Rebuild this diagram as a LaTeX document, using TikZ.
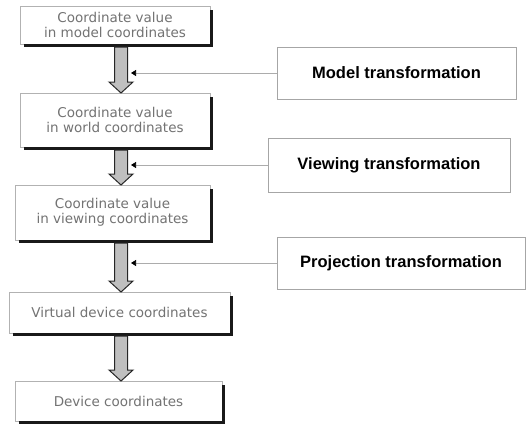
\documentclass[tikz,border=0pt]{standalone}
\usepackage{fontspec}
\setmainfont{DejaVu Sans}
\newfontfamily\boldsans{Liberation Sans}
\usetikzlibrary{calc,arrows.meta}
\begin{document}
\begin{tikzpicture}[x=1pt,y=-1pt,
  leftbox/.style={draw=gray!60, line width=0.8pt, fill=white, inner sep=0pt, outer sep=0pt,
    align=center, text=black!55, font=\fontsize{13.5}{15}\selectfont},
  shadowline/.style={draw=black!90, line width=3pt},
  rightbox/.style={draw=gray!70, line width=0.8pt, fill=white, inner sep=0pt, outer sep=0pt,
    font=\boldsans\bfseries\fontsize{16.5}{18}\selectfont},
  blockarr/.style={fill=gray!50, draw=black!85, line width=1pt},
  conn/.style={draw=gray!65, line width=0.7pt, -{Triangle[length=5pt,width=6pt,color=black]}}]
\useasboundingbox (0,0) rectangle (526,432);
% left boxes
\node[leftbox, minimum width=190pt, minimum height=38pt] (b1) at (115,25) {Coordinate value\\in model coordinates};
\node[leftbox, minimum width=190pt, minimum height=54pt] (b2) at (115,120) {Coordinate value\\in world coordinates};
\node[leftbox, minimum width=195pt, minimum height=55pt] (b3) at (112.5,212.5) {Coordinate value\\in viewing coordinates};
\node[leftbox, minimum width=221pt, minimum height=41pt] (b4) at (119.5,312.5) {Virtual device coordinates};
\node[leftbox, minimum width=207pt, minimum height=40pt] (b5) at (118.5,401) {Device coordinates};
% shadows
\foreach \b in {b1,b2,b3,b4,b5}{
  \draw[shadowline] ($(\b.north east)+(1.5,4)$) -- ($(\b.south east)+(1.5,1.5)$) -- ($(\b.south west)+(4,1.5)$);
}
% right boxes
\node[rightbox, minimum width=239pt, minimum height=52pt] (mt) at (396.5,73) {Model transformation};
\node[rightbox, minimum width=242pt, minimum height=54pt] (vt) at (389,165) {Viewing transformation};
\node[rightbox, minimum width=248pt, minimum height=52pt] (pt) at (401,263) {Projection transformation};
% helper coordinates
\coordinate (ax) at (121,0);
\coordinate (cx) at (131,0);
% block arrows
\foreach \a/\b in {b1/b2,b2/b3,b3/b4,b4/b5}{
  \filldraw[blockarr] let \p1=(\a.south -| ax), \p2=(\b.north -| ax) in
    (\x1-6.5pt,\y1-3pt) -- (\x1-6.5pt,\y2+11pt) -- (\x1-12pt,\y2+11pt) -- (\x1,\y2)
    -- (\x1+12pt,\y2+11pt) -- (\x1+6.5pt,\y2+11pt) -- (\x1+6.5pt,\y1-3pt) -- cycle;
}
% connectors
\draw[conn] (mt.west) -- (mt.west -| cx);
\draw[conn] (vt.west) -- (vt.west -| cx);
\draw[conn] (pt.west) -- (pt.west -| cx);
\end{tikzpicture}
\end{document}
